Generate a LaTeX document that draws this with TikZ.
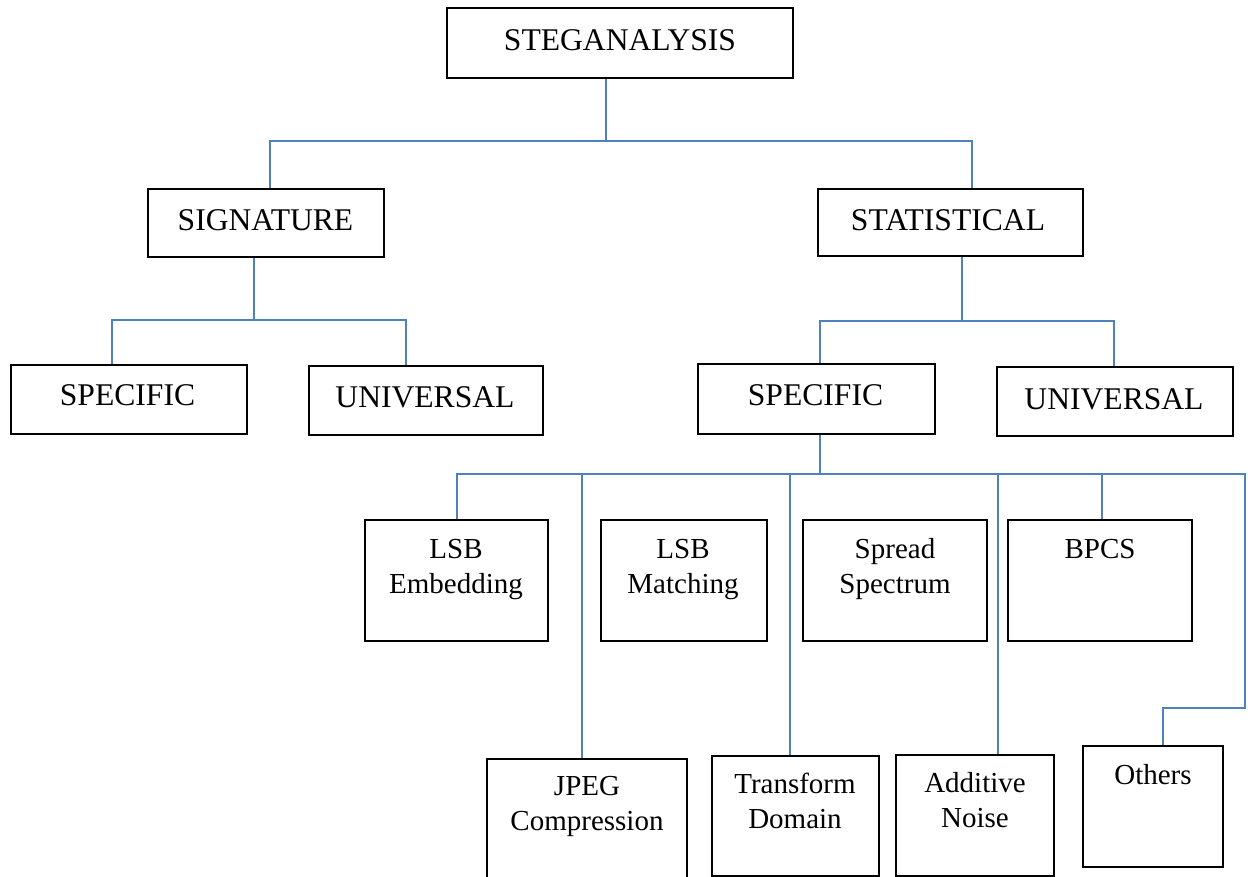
\documentclass[tikz,border=0pt]{standalone}
\usepackage{fontspec}
\setmainfont{Liberation Serif}
\definecolor{linkblue}{RGB}{79,129,189}
\begin{document}
\begin{tikzpicture}[x=1pt,y=-1pt,
  box/.style={draw=black, line width=1.6pt, rectangle, inner sep=0pt},
  conn/.style={draw=linkblue, line width=1.5pt},
  bigtxt/.style={font=\fontsize{31.6}{38}\selectfont, inner sep=0pt, anchor=base},
  smalltxt/.style={font=\fontsize{29}{35}\selectfont, inner sep=0pt, anchor=base, align=center}]

% page frame
\clip (0,0) rectangle (1248,877);

% boxes: level 1 and 2
\node[box, minimum width=346pt, minimum height=70pt] (steg) at (620,43) {};
\node[box, minimum width=236pt, minimum height=68pt] (sig) at (266,223) {};
\node[box, minimum width=265pt, minimum height=67pt] (stat) at (950.5,222.5) {};

% level 3
\node[box, minimum width=236pt, minimum height=69pt] (specL) at (129,399.5) {};
\node[box, minimum width=234pt, minimum height=69pt] (uniL) at (426,400.5) {};
\node[box, minimum width=237pt, minimum height=70pt] (specR) at (816.5,399) {};
\node[box, minimum width=236pt, minimum height=69pt] (uniR) at (1115,401.5) {};

% level 4, upper row
\node[box, minimum width=183pt, minimum height=121pt] (lsbE) at (456.5,580.5) {};
\node[box, minimum width=166pt, minimum height=121pt] (lsbM) at (684,580.5) {};
\node[box, minimum width=184pt, minimum height=121pt] (spread) at (895,580.5) {};
\node[box, minimum width=184pt, minimum height=121pt] (bpcs) at (1100,580.5) {};

% level 4, lower row
\node[box, minimum width=200pt, minimum height=141pt] (jpeg) at (587,829.5) {};
\node[box, minimum width=167pt, minimum height=120pt] (trans) at (795.5,816) {};
\node[box, minimum width=158pt, minimum height=121pt] (addn) at (975,815.5) {};
\node[box, minimum width=140pt, minimum height=121pt] (others) at (1153,806.5) {};

% labels (two-line labels are placed by the baseline of their last line)
\node[bigtxt] (steg-t) at (620,51) {STEGANALYSIS};
\node[bigtxt] (sig-t) at (265.5,231) {SIGNATURE};
\node[bigtxt] (stat-t) at (948,231) {STATISTICAL};
\node[bigtxt] (specL-t) at (127.5,405) {SPECIFIC};
\node[bigtxt] (uniL-t) at (425,407) {UNIVERSAL};
\node[bigtxt] (specR-t) at (815.5,405) {SPECIFIC};
\node[bigtxt] (uniR-t) at (1114,409) {UNIVERSAL};

\node[smalltxt] (lsbE-t) at (456,593) {LSB\\Embedding};
\node[smalltxt] (lsbM-t) at (683,593) {LSB\\Matching};
\node[smalltxt] (spread-t) at (895,593) {Spread\\Spectrum};
\node[smalltxt] (bpcs-t) at (1100,558) {BPCS};
\node[smalltxt] (jpeg-t) at (587,830) {JPEG\\Compression};
\node[smalltxt] (trans-t) at (795,828) {Transform\\Domain};
\node[smalltxt] (addn-t) at (975,827) {Additive\\Noise};
\node[smalltxt] (others-t) at (1153,784) {Others};

% junction points of the connector buses
\coordinate (b1) at (606,141);
\coordinate (b1l) at (270,141);
\coordinate (b1r) at (972,141);
\coordinate (b2) at (254,320);
\coordinate (b2l) at (112,320);
\coordinate (b2r) at (406,320);
\coordinate (b3) at (962,321);
\coordinate (b3l) at (820,321);
\coordinate (b3r) at (1114,321);
\coordinate (b4) at (820,474);
\coordinate (b4l) at (457,474);
\coordinate (b4r) at (1245,474);
\coordinate (d1) at (582,474);
\coordinate (d2) at (790,474);
\coordinate (d3) at (998,474);
\coordinate (d4) at (1102,474);
\coordinate (k1) at (1245,708);
\coordinate (k2) at (1163,708);

% STEGANALYSIS -> SIGNATURE / STATISTICAL
\draw[conn] (steg.south -| b1) -- (b1);
\draw[conn] (b1l |- sig.north) -- (b1l) -- (b1r) -- (b1r |- stat.north);

% SIGNATURE -> SPECIFIC / UNIVERSAL
\draw[conn] (sig.south -| b2) -- (b2);
\draw[conn] (b2l |- specL.north) -- (b2l) -- (b2r) -- (b2r |- uniL.north);

% STATISTICAL -> SPECIFIC / UNIVERSAL
\draw[conn] (stat.south -| b3) -- (b3);
\draw[conn] (b3l |- specR.north) -- (b3l) -- (b3r) -- (b3r |- uniR.north);

% SPECIFIC -> techniques
\draw[conn] (specR.south -| b4) -- (b4);
\draw[conn] (b4l |- lsbE.north) -- (b4l) -- (b4r) -- (k1) -- (k2) -- (k2 |- others.north);
\draw[conn] (d1) -- (d1 |- jpeg.north);
\draw[conn] (d2) -- (d2 |- trans.north);
\draw[conn] (d3) -- (d3 |- addn.north);
\draw[conn] (d4) -- (d4 |- bpcs.north);

\end{tikzpicture}
\end{document}
